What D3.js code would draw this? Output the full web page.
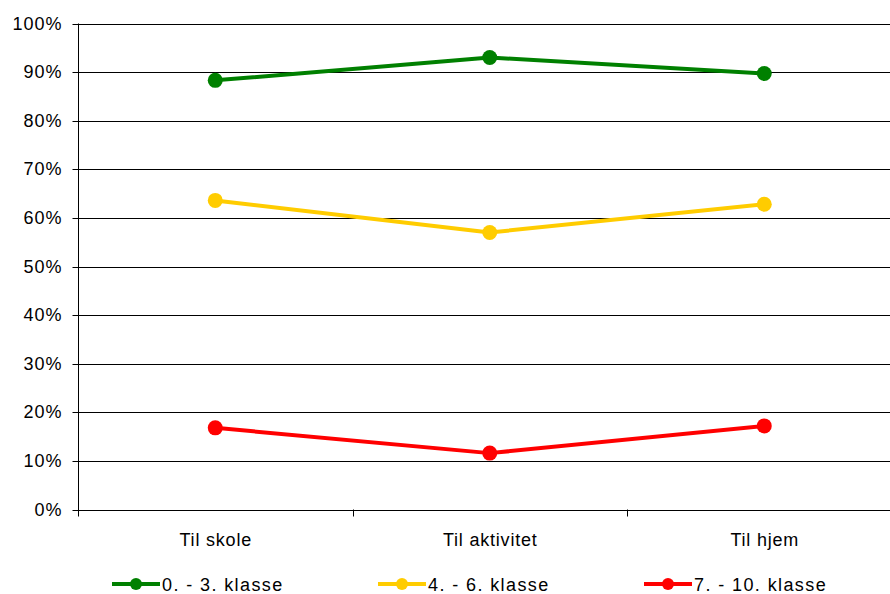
<!DOCTYPE html>
<html>
<head>
<meta charset="utf-8">
<script src="https://cdn.jsdelivr.net/npm/d3@7"></script>
<style>
  html, body { margin: 0; padding: 0; background: #fff; }
  svg { display: block; font-family: "Liberation Sans", Arial, sans-serif; }
</style>
</head>
<body>
<svg id="chart" width="890" height="594"></svg>
<script>
// Share of pupils per trip type, by grade group
const categories = ["Til skole", "Til aktivitet", "Til hjem"];
const seriesNames = ["0. - 3. klasse", "4. - 6. klasse", "7. - 10. klasse"];
const seriesColors = ["#008000", "#FFCC00", "#FF0000"];
const grade0to3 = [0.883, 0.930, 0.897];
const grade4to6 = [0.636, 0.570, 0.628];
const grade7to10 = [0.168, 0.116, 0.172];
const yTicks = [0, 0.1, 0.2, 0.3, 0.4, 0.5, 0.6, 0.7, 0.8, 0.9, 1.0];

const series = [grade0to3, grade4to6, grade7to10].map((values, i) => ({
  name: seriesNames[i], color: seriesColors[i], values
}));

const svg = d3.select("#chart");
const plotLeft = 78, plotRight = 901.5, plotTop = 23.5, plotBottom = 509.5;

const x = d3.scaleBand().domain(categories).range([plotLeft, plotRight]);
const y = d3.scaleLinear().domain([0, 1]).range([plotBottom, plotTop]);
const snap = v => Math.round(v) + 0.5;

// horizontal gridlines
svg.append("g")
  .selectAll("line")
  .data(yTicks)
  .join("line")
  .attr("x1", plotLeft).attr("x2", 890)
  .attr("y1", d => snap(y(d))).attr("y2", d => snap(y(d)))
  .attr("stroke", "#000").attr("stroke-width", 1);

// y axis
const yAxis = svg.append("g")
  .attr("transform", `translate(${plotLeft + 0.5},0)`)
  .call(d3.axisLeft(y).tickValues(yTicks).tickFormat(d3.format(".0%")).tickSize(6).tickPadding(10));
yAxis.select(".domain").attr("stroke", "#000").attr("d", `M0,${plotTop}V${plotBottom + 6}`);
yAxis.selectAll(".tick line").attr("stroke", "#000");
yAxis.selectAll(".tick").attr("transform", d => `translate(0,${snap(y(d))})`);
yAxis.selectAll("text").attr("font-size", 18).attr("fill", "#000")
  .attr("letter-spacing", 1)
  .attr("font-family", "'Liberation Sans', Arial, sans-serif");

// x axis ticks at category boundaries
const boundaries = [plotLeft, plotLeft + x.bandwidth(), plotLeft + 2 * x.bandwidth()];
svg.append("g")
  .selectAll("line")
  .data(boundaries)
  .join("line")
  .attr("x1", d => snap(d)).attr("x2", d => snap(d))
  .attr("y1", plotBottom).attr("y2", plotBottom + 7)
  .attr("stroke", "#000");

svg.append("g")
  .selectAll("text")
  .data(categories)
  .join("text")
  .attr("x", d => x(d) + x.bandwidth() / 2 + 0.5)
  .attr("y", 546)
  .attr("text-anchor", "middle")
  .attr("font-size", 18)
  .attr("letter-spacing", 0.8)
  .text(d => d);

// lines and markers
const line = d3.line()
  .x((d, i) => x(categories[i]) + x.bandwidth() / 2)
  .y(d => y(d));

const g = svg.append("g");
series.forEach(s => {
  g.append("path")
    .datum(s.values)
    .attr("d", line)
    .attr("fill", "none")
    .attr("stroke", s.color)
    .attr("stroke-width", 4)
    .attr("stroke-linejoin", "round");
  g.selectAll(null)
    .data(s.values)
    .join("circle")
    .attr("cx", (d, i) => x(categories[i]) + x.bandwidth() / 2)
    .attr("cy", d => y(d))
    .attr("r", 7.5)
    .attr("fill", s.color);
});

// legend
const legendX = [112, 378, 644];
const legend = svg.append("g");
series.forEach((s, i) => {
  const lg = legend.append("g").attr("transform", `translate(${legendX[i]},584)`);
  lg.append("line").attr("x1", 0).attr("x2", 48).attr("y1", 0).attr("y2", 0)
    .attr("stroke", s.color).attr("stroke-width", 4);
  lg.append("circle").attr("cx", 24).attr("cy", 0).attr("r", 6).attr("fill", s.color);
  lg.append("text").attr("x", 50).attr("y", 6.5).attr("font-size", 18)
    .attr("letter-spacing", 1.4).text(s.name);
});
</script>
</body>
</html>
